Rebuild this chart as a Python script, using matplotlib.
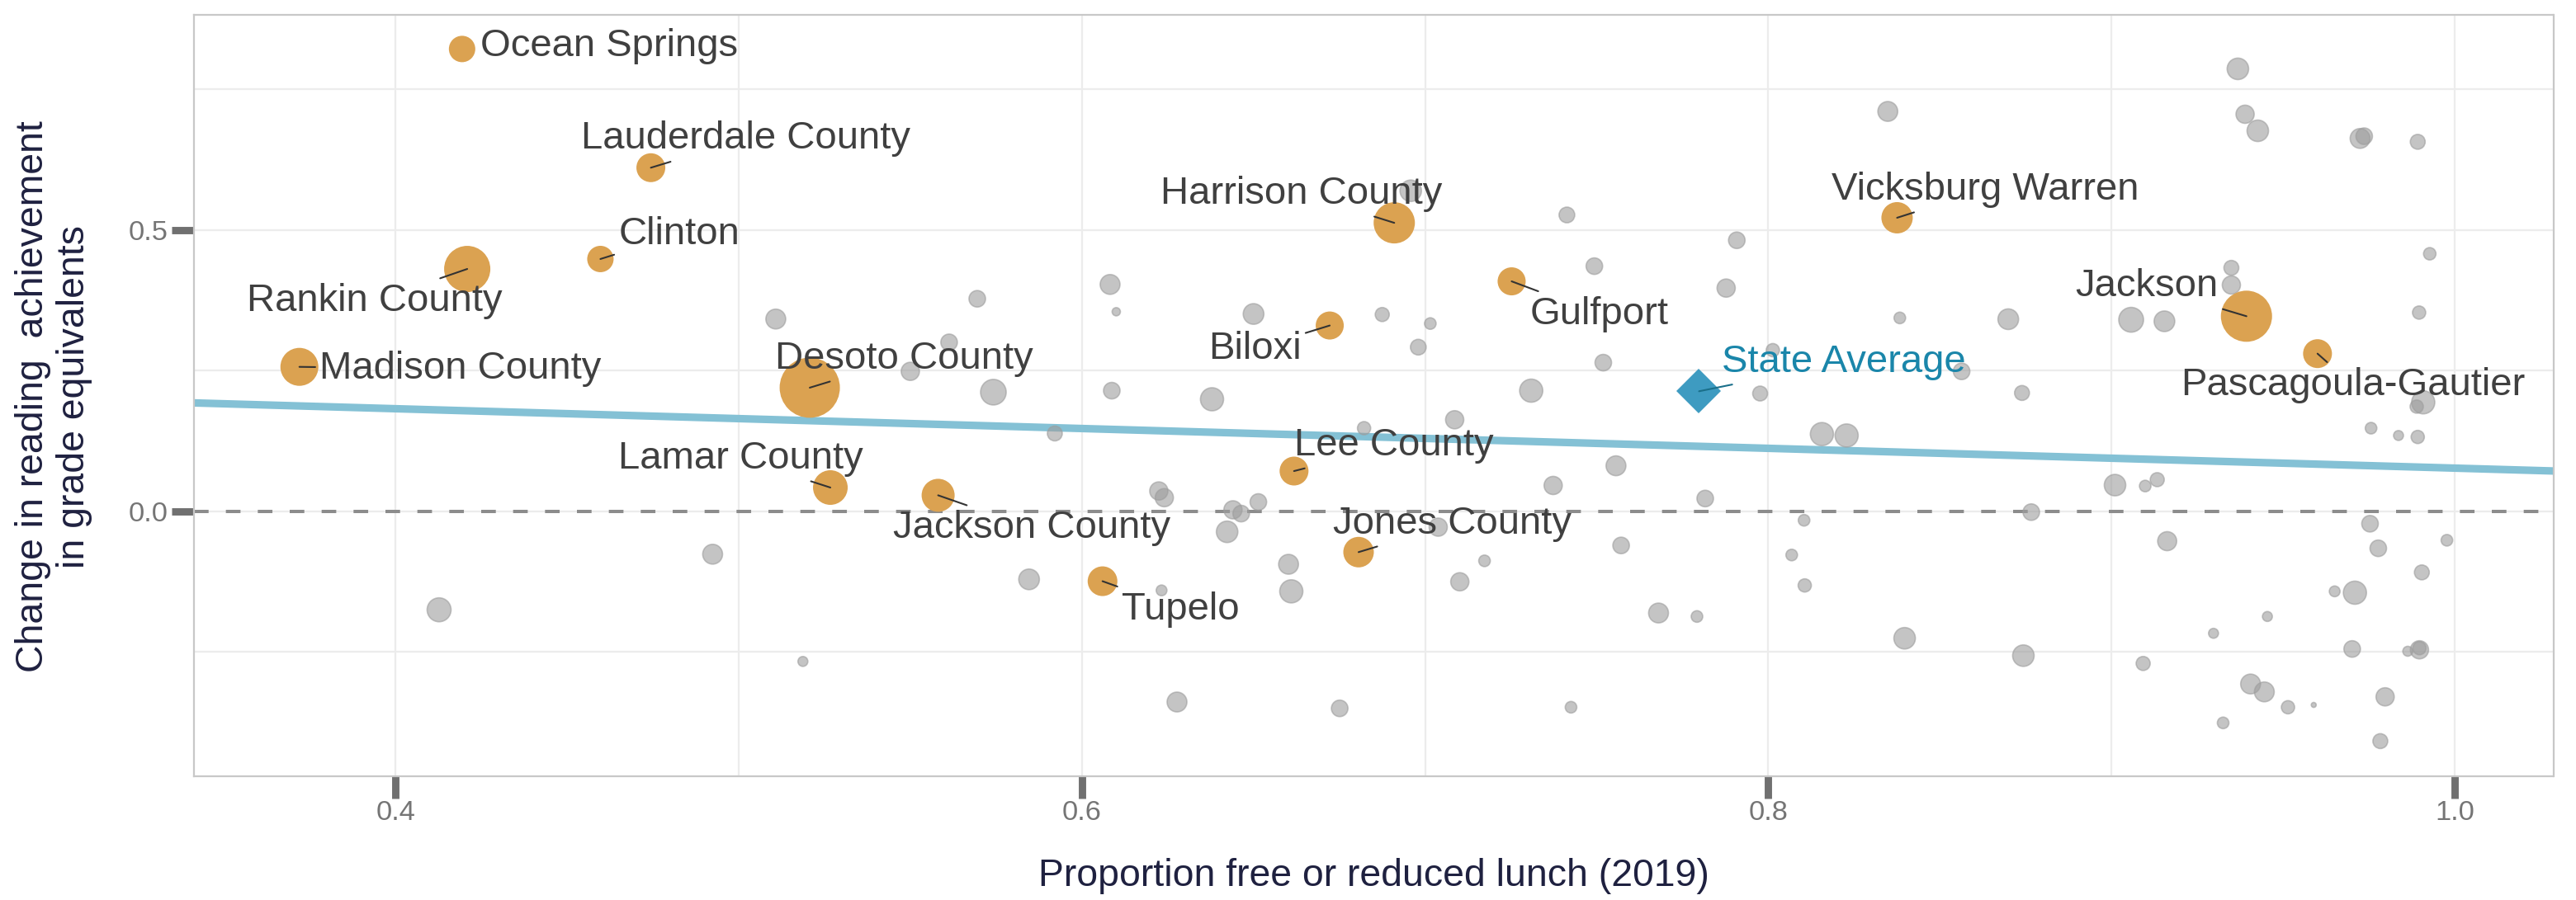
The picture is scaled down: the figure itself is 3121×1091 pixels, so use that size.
import matplotlib
matplotlib.use("Agg")
import matplotlib.pyplot as plt
import numpy as np

plt.rcParams['font.family'] = ['Liberation Sans', 'DejaVu Sans']

# ---------------- data ----------------
# other districts (grey)
other_frl = [0.5108, 0.6958, 0.7413, 0.7493, 0.6082, 0.5695, 0.6100, 0.6500, 0.6875, 0.7015,
             0.6980, 0.5613, 0.5500, 0.5742, 0.6087, 0.6379, 0.7309, 0.7519, 0.7086, 0.5921,
             0.6822, 0.9368, 0.8348, 0.9389, 0.9426, 0.9724, 0.9736, 0.9892, 0.7908, 0.9927,
             0.7877, 0.9349, 0.9349, 0.8383, 0.8699, 0.9057, 0.9154, 0.9896, 0.8563, 0.8013,
             0.7976, 0.8739, 0.9908, 0.9889, 0.8156, 0.8228, 0.9756, 0.9836, 0.9892, 0.4924,
             0.4127, 0.5187, 0.6224, 0.6240, 0.6514, 0.6440, 0.6464, 0.6423, 0.7373, 0.7556,
             0.7816, 0.7038, 0.7571, 0.7173, 0.6602, 0.7101, 0.5846, 0.6232, 0.6610, 0.7680,
             0.7792, 0.6277, 0.6751, 0.7425, 0.9010, 0.9098, 0.9133, 0.8766, 0.8104, 0.8068,
             0.8106, 0.9162, 0.9753, 0.9777, 0.9977, 0.9904, 0.9650, 0.9709, 0.9454, 0.9297,
             0.8397, 0.8743, 0.9092, 0.9701, 0.9897, 0.9863, 0.9897, 0.9405, 0.9445, 0.9514,
             0.9589, 0.9325, 0.9797, 0.9783]
other_change = [0.342, 0.570, 0.527, 0.436, 0.4035, 0.378, 0.355, 0.351, 0.350, 0.334,
                0.292, 0.3006, 0.249, 0.212, 0.2147, 0.1994, 0.2147, 0.2645, 0.163, 0.1386,
                0.148, 0.7867, 0.711, 0.706, 0.6766, 0.663, 0.667, 0.657, 0.482, 0.458,
                0.397, 0.433, 0.4025, 0.344, 0.3417, 0.3407, 0.338, 0.3535, 0.249, 0.2867,
                0.2096, 0.2106, 0.194, 0.1864, 0.1375, 0.135, 0.148, 0.135, 0.1324, -0.076,
                -0.1748, -0.2666, 0.0364, 0.0245, 0.0168, 0.0029, -0.0038, -0.0362, 0.0462, 0.0812,
                0.023, -0.0279, -0.0604, -0.0878, -0.0939, -0.125, -0.1207, -0.1403, -0.142, -0.1805,
                -0.1867, -0.3387, -0.350, -0.348, 0.0468, 0.0452, 0.0565, -0.0012, -0.0157, -0.0774,
                -0.1315, -0.0528, -0.0218, -0.0655, -0.0512, -0.1083, -0.142, -0.1444, -0.1867, -0.2166,
                -0.2254, -0.2563, -0.2702, -0.2444, -0.2459, -0.2485, -0.243, -0.3067, -0.3207, -0.348,
                -0.3439, -0.3758, -0.3295, -0.4082]
other_size = [24, 26, 19, 20, 24, 20, 10, 25, 17, 14,
              19, 20, 22, 31, 20, 28, 28, 20, 22, 18,
              16, 26, 24, 22, 26, 24, 20, 18, 20, 15,
              22, 18, 22, 14, 25, 30, 25, 16, 20, 16,
              18, 18, 28, 16, 28, 28, 14, 12, 16, 24,
              29, 12, 22, 22, 20, 22, 20, 26, 22, 24,
              20, 22, 20, 14, 24, 22, 25, 13, 28, 24,
              14, 24, 20, 14, 26, 14, 17, 20, 14, 14,
              16, 23, 20, 20, 14, 18, 13, 28, 12, 12,
              26, 26, 17, 20, 22, 12, 16, 24, 24, 16,
              6, 14, 22, 18]

# highlighted districts (orange)
hl_names = ["Ocean Springs", "Lauderdale County", "Clinton", "Rankin County", "Madison County",
            "Desoto County", "Harrison County", "Gulfport", "Biloxi", "Vicksburg Warren",
            "Jackson", "Pascagoula-Gautier", "Lamar County", "Lee County", "Jackson County",
            "Jones County", "Tupelo"]
hl_frl = [0.4194, 0.4744, 0.4597, 0.4209, 0.3720, 0.5207, 0.6910, 0.7252, 0.6722, 0.8375,
          0.9393, 0.9600, 0.5267, 0.6618, 0.5581, 0.6806, 0.6060]
hl_change = [0.822, 0.611, 0.4487, 0.431, 0.257, 0.220, 0.513, 0.409, 0.3305, 0.522,
             0.347, 0.2805, 0.0425, 0.0718, 0.0287, -0.0723, -0.124]
hl_size = [32, 35, 32, 56, 46, 73, 50, 34, 34, 38, 62, 35, 42, 35, 40, 37, 36]

# state average
state_name = "State Average"
state_frl = 0.7798
state_change = 0.2136

# fitted line (intercept, slope)
fit_intercept = 0.253
fit_slope = -0.176

x_ticks = [0.4, 0.6, 0.8, 1.0]
x_tick_labels = ["0.4", "0.6", "0.8", "1.0"]
y_ticks = [0.0, 0.5]
y_tick_labels = ["0.0", "0.5"]

x_title = "Proportion free or reduced lunch (2019)"
y_title = "Change in reading  achievement\nin grade equivalents"

# label placement (text centres, data coords)
label_pos = {
    "Ocean Springs": (0.4623, 0.827),
    "Lauderdale County": (0.502, 0.662),
    "Clinton": (0.4827, 0.4924),
    "Rankin County": (0.3938, 0.374),
    "Madison County": (0.419, 0.2532),
    "Desoto County": (0.5483, 0.2713),
    "Harrison County": (0.664, 0.5645),
    "Biloxi": (0.6503, 0.2893),
    "Gulfport": (0.7507, 0.351),
    "Lee County": (0.691, 0.117),
    "Lamar County": (0.5005, 0.094),
    "Jackson County": (0.5855, -0.0294),
    "Jones County": (0.708, -0.0219),
    "Tupelo": (0.6288, -0.1738),
    "Vicksburg Warren": (0.8632, 0.572),
    "Jackson": (0.9103, 0.400),
    "Pascagoula-Gautier": (0.9703, 0.225),
    "State Average": (0.822, 0.266),
}
no_segment = {"Ocean Springs"}

# ---------------- figure ----------------
W, H, DPI = 3121, 1091, 200
fig = plt.figure(figsize=(W / DPI, H / DPI), dpi=DPI)
ax = fig.add_axes([235.5 / W, 1 - 940.6 / H, (3093.5 - 235.5) / W, (940.6 - 17.5) / H])

xlim = (0.3414, 1.0287)
ylim = (-0.4701, 0.8834)
ax.set_xlim(*xlim)
ax.set_ylim(*ylim)

def px2pt(d):
    return d * 72.0 / DPI

# grid
for gx in np.arange(0.4, 1.01, 0.1):
    ax.axvline(gx, color='#ececec', lw=0.8, zorder=0)
for gy in [-0.25, 0.0, 0.25, 0.5, 0.75]:
    ax.axhline(gy, color='#ececec', lw=0.8, zorder=0)

# zero reference
ax.axhline(0, color='#8c8c8c', lw=1.45, linestyle=(0, (4.4, 5.2)), zorder=1)

# fitted line
fx = np.array(xlim)
ax.plot(fx, fit_intercept + fit_slope * fx, color='#84c1d5', lw=3.3, zorder=2,
        solid_capstyle='butt')

# grey points
ax.scatter(other_frl, other_change, s=[px2pt(d) ** 2 for d in other_size],
           color='#9d9d9d', alpha=0.6, edgecolors='#9d9d9d', linewidths=0.6, zorder=3)

# orange points
ax.scatter(hl_frl, hl_change, s=[px2pt(d) ** 2 for d in hl_size],
           color='#dba251', edgecolors='none', zorder=4)

# state average
ax.plot([state_frl], [state_change], marker='D', markersize=14.0, color='#3e9bc1',
        markeredgewidth=0, linestyle='none', zorder=5)

# labels
lab_fs = 17.0
for name, x, y in zip(hl_names, hl_frl, hl_change):
    tx, ty = label_pos[name]
    ap = None if name in no_segment else dict(arrowstyle='-', color='#333333', lw=0.75,
                                               shrinkA=0, shrinkB=0)
    ax.annotate(name, xy=(x, y), xytext=(tx, ty), ha='center', va='center',
                fontsize=lab_fs, color='#404040', arrowprops=ap, zorder=6)
tx, ty = label_pos[state_name]
ax.annotate(state_name, xy=(state_frl, state_change), xytext=(tx, ty), ha='center',
            va='center', fontsize=lab_fs, color='#1a86aa',
            arrowprops=dict(arrowstyle='-', color='#1a6f8a', lw=0.75, shrinkA=0, shrinkB=0),
            zorder=6)

# axes styling
for sp in ax.spines.values():
    sp.set_color('#c8c8c8')
    sp.set_linewidth(0.8)
ax.set_xticks(x_ticks)
ax.set_xticklabels(x_tick_labels)
ax.set_yticks(y_ticks)
ax.set_yticklabels(y_tick_labels)
ax.tick_params(axis='both', length=9.7, width=3.2, color='#707070', labelcolor='#757575',
               labelsize=12.4)
ax.tick_params(axis='x', pad=1.0)
ax.tick_params(axis='y', pad=1.8)

fig.text(1664.5 / W, 1 - 1062 / H, x_title, ha='center', va='center', fontsize=16.7,
         color='#1f2140')
fig.text(65 / W, 1 - 481 / H, y_title, rotation=90, ha='center', va='center',
         multialignment='center', fontsize=16.7, color='#1f2140', linespacing=1.15)

fig.savefig("out.png", dpi=DPI)
